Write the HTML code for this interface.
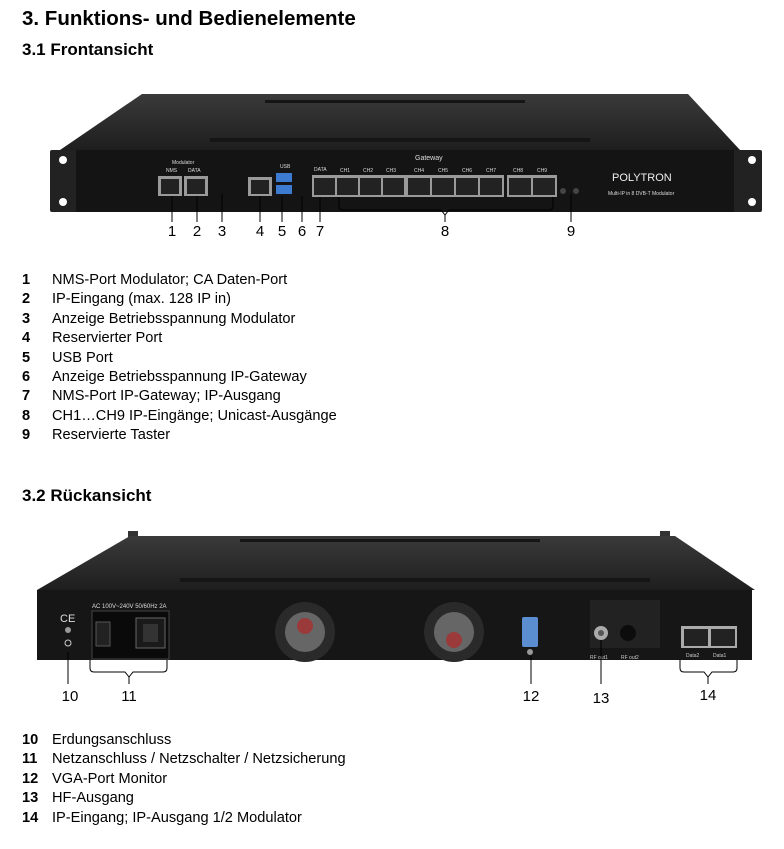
<!DOCTYPE html>
<html><head><meta charset="utf-8"><style>
body{margin:0;width:784px;height:849px;background:#fff;font-family:"Liberation Sans",Arial,sans-serif;position:relative;overflow:hidden;color:#000}
h1{position:absolute;left:22px;top:7px;margin:0;font-size:20.5px;font-weight:bold}
h2{position:absolute;left:22px;margin:0;font-size:17px;font-weight:bold}
.li{position:absolute;left:22px;font-size:14.6px;line-height:19.4px}
.li b{display:inline-block;width:30px}
svg{position:absolute;left:0;top:0}
</style></head><body>
<h1>3. Funktions- und Bedienelemente</h1>
<h2 style="top:40px">3.1 Frontansicht</h2>
<svg width="784" height="849" viewBox="0 0 784 849" font-family="Liberation Sans, Arial, sans-serif">
<defs>
<linearGradient id="tp" x1="0" y1="0" x2="0" y2="1"><stop offset="0" stop-color="#3a3a3a"/><stop offset="1" stop-color="#1e1e1e"/></linearGradient>
</defs>
<polygon points="142,94 688,94 740,150 60,150" fill="url(#tp)"/>
<rect x="265" y="100" width="260" height="3" fill="#151515"/>
<rect x="210" y="138" width="380" height="4" fill="#151515"/>
<rect x="50" y="150" width="28" height="62" fill="#222" rx="2"/>
<rect x="732" y="150" width="30" height="62" fill="#222" rx="2"/>
<circle cx="63" cy="160" r="4" fill="#fff"/><circle cx="63" cy="202" r="4" fill="#fff"/>
<circle cx="752" cy="160" r="4" fill="#fff"/><circle cx="752" cy="202" r="4" fill="#fff"/>
<rect x="76" y="150" width="658" height="62" fill="#141414"/>
<g fill="#ddd" font-size="5">
<text x="172" y="164">Modulator</text><text x="166" y="172">NMS</text><text x="188" y="172">DATA</text>
<text x="280" y="168">USB</text><text x="314" y="171">DATA</text>
<text x="415" y="160" font-size="7">Gateway</text>
<text x="340" y="172">CH1</text><text x="363" y="172">CH2</text><text x="386" y="172">CH3</text>
<text x="414" y="172">CH4</text><text x="438" y="172">CH5</text><text x="462" y="172">CH6</text><text x="486" y="172">CH7</text>
<text x="513" y="172">CH8</text><text x="537" y="172">CH9</text>
<text x="612" y="181" font-size="11" fill="#eee">POLYTRON</text>
<text x="608" y="195" font-size="5">Multi-IP in 8 DVB-T Modulator</text>
</g>
<g fill="#9a9a9a">
<rect x="158" y="176" width="24" height="20"/><rect x="184" y="176" width="24" height="20"/>
<rect x="248" y="177" width="24" height="19"/>
<rect x="312" y="175" width="94" height="22"/><rect x="406" y="175" width="98" height="22"/><rect x="507" y="175" width="50" height="22"/>
</g>
<g fill="#222">
<rect x="161" y="179" width="18" height="15"/><rect x="187" y="179" width="18" height="15"/><rect x="251" y="180" width="18" height="14"/>
<rect x="314" y="178" width="21" height="17"/><rect x="337" y="178" width="21" height="17"/><rect x="360" y="178" width="21" height="17"/><rect x="383" y="178" width="21" height="17"/>
<rect x="408" y="178" width="22" height="17"/><rect x="432" y="178" width="22" height="17"/><rect x="456" y="178" width="22" height="17"/><rect x="480" y="178" width="22" height="17"/>
<rect x="509" y="178" width="22" height="17"/><rect x="533" y="178" width="22" height="17"/>
</g>
<rect x="276" y="173" width="16" height="9" fill="#3d7bd0"/><rect x="276" y="185" width="16" height="9" fill="#3d7bd0"/>
<circle cx="563" cy="191" r="3" fill="#444"/><circle cx="576" cy="191" r="3" fill="#444"/>
<g stroke="#000" stroke-width="1" fill="none">
<line x1="172" y1="196" x2="172" y2="222"/><line x1="197" y1="196" x2="197" y2="222"/><line x1="222" y1="194" x2="222" y2="222"/>
<line x1="260" y1="196" x2="260" y2="222"/><line x1="282" y1="196" x2="282" y2="222"/><line x1="302" y1="196" x2="302" y2="222"/><line x1="320" y1="197" x2="320" y2="222"/>
<path d="M339,197 V206 Q339,210 343,210 H441 L445,215 L449,210 H549 Q553,210 553,206 V197"/>
<line x1="445" y1="215" x2="445" y2="222"/>
<line x1="571" y1="194" x2="571" y2="222"/>
</g>
<g font-size="15" text-anchor="middle">
<text x="172" y="236">1</text><text x="197" y="236">2</text><text x="222" y="236">3</text><text x="260" y="236">4</text>
<text x="282" y="236">5</text><text x="302" y="236">6</text><text x="320" y="236">7</text><text x="445" y="236">8</text><text x="571" y="236">9</text>
</g>
<rect x="128" y="531" width="10" height="8" fill="#333"/><rect x="660" y="531" width="10" height="8" fill="#333"/>
<polygon points="130,536 675,536 755,590 37,590" fill="url(#tp)"/>
<rect x="240" y="539" width="300" height="3" fill="#151515"/>
<rect x="180" y="578" width="470" height="4" fill="#151515"/>
<rect x="37" y="590" width="715" height="70" fill="#161616"/>
<text x="92" y="608" font-size="6" fill="#ddd">AC 100V~240V 50/60Hz 2A</text>
<text x="60" y="622" font-size="11" fill="#ddd">CE</text>
<circle cx="68" cy="630" r="3" fill="#999"/><circle cx="68" cy="643" r="3" fill="none" stroke="#ccc"/>
<rect x="92" y="611" width="77" height="48" fill="#0a0a0a" stroke="#444"/>
<rect x="96" y="622" width="14" height="24" fill="#222" stroke="#555"/>
<rect x="136" y="618" width="29" height="30" fill="#1a1a1a" stroke="#666"/>
<rect x="143" y="624" width="15" height="18" fill="#333"/>
<circle cx="305" cy="632" r="30" fill="#2a2a2a"/><circle cx="305" cy="632" r="20" fill="#666"/>
<circle cx="454" cy="632" r="30" fill="#2a2a2a"/><circle cx="454" cy="632" r="20" fill="#666"/>
<circle cx="305" cy="626" r="8" fill="#9a3a3a"/><circle cx="454" cy="640" r="8" fill="#9a3a3a"/>
<rect x="522" y="617" width="16" height="30" fill="#5a8ed0" rx="2"/>
<circle cx="530" cy="652" r="3" fill="#999"/>
<rect x="590" y="600" width="70" height="48" fill="#222"/>
<circle cx="601" cy="633" r="7" fill="#aaa"/><circle cx="601" cy="633" r="3" fill="#555"/>
<circle cx="628" cy="633" r="8" fill="#0c0c0c"/>
<text x="590" y="659" font-size="5" fill="#ccc">RF out1</text><text x="621" y="659" font-size="5" fill="#ccc">RF out2</text>
<rect x="681" y="626" width="56" height="22" fill="#aaa"/>
<rect x="684" y="629" width="24" height="17" fill="#222"/><rect x="711" y="629" width="24" height="17" fill="#222"/>
<text x="686" y="657" font-size="5" fill="#ccc">Data2</text><text x="713" y="657" font-size="5" fill="#ccc">Data1</text>
<g stroke="#000" stroke-width="1" fill="none">
<line x1="68" y1="652" x2="68" y2="684"/>
<path d="M90,660 V668 Q90,672 94,672 H125 L129,677 L133,672 H163 Q167,672 167,668 V660"/><line x1="129" y1="677" x2="129" y2="684"/>
<line x1="531" y1="656" x2="531" y2="684"/>
<line x1="601" y1="640" x2="601" y2="684"/>
<path d="M680,660 V668 Q680,672 684,672 H704 L708,677 L712,672 H733 Q737,672 737,668 V660"/><line x1="708" y1="677" x2="708" y2="684"/>
</g>
<g font-size="15" text-anchor="middle">
<text x="70" y="701">10</text><text x="129" y="701">11</text><text x="531" y="701">12</text><text x="601" y="703">13</text><text x="708" y="700">14</text>
</g>
</svg>
<div class="li" style="top:271px"><b>1</b>NMS-Port Modulator; CA Daten-Port<br><b>2</b>IP-Eingang (max. 128 IP in)<br><b>3</b>Anzeige Betriebsspannung Modulator<br><b>4</b>Reservierter Port<br><b>5</b>USB Port<br><b>6</b>Anzeige Betriebsspannung IP-Gateway<br><b>7</b>NMS-Port IP-Gateway; IP-Ausgang<br><b>8</b>CH1…CH9 IP-Eingänge; Unicast-Ausgänge<br><b>9</b>Reservierte Taster</div>
<h2 style="top:486px">3.2 Rückansicht</h2>
<div class="li" style="top:731px"><b>10</b>Erdungsanschluss<br><b>11</b>Netzanschluss / Netzschalter / Netzsicherung<br><b>12</b>VGA-Port Monitor<br><b>13</b>HF-Ausgang<br><b>14</b>IP-Eingang; IP-Ausgang 1/2 Modulator</div>
</body></html>
